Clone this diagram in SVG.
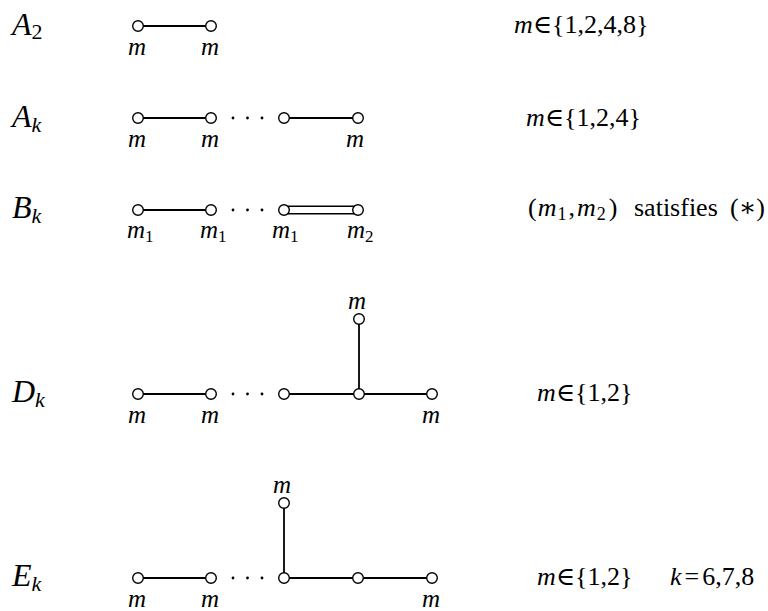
<svg xmlns="http://www.w3.org/2000/svg" width="768" height="611" viewBox="0 0 768 611">
<style>
.nd{fill:#fff;stroke:#000;stroke-width:1.4}
.ln{stroke:#000;stroke-width:1.8;fill:none}
.dl{stroke:#000;stroke-width:1.5;fill:none}
.dot{fill:#000}
.lab{font-family:'Liberation Serif','Tinos','DejaVu Serif',serif;font-style:italic;font-size:25px;text-anchor:middle}
.labs{font-family:'Liberation Serif','Tinos','DejaVu Serif',serif;font-size:25px}
.it{font-style:italic}
.sub{font-size:17px;font-style:normal}
.name{font-family:'Liberation Serif','Tinos','DejaVu Serif',serif;font-style:italic;font-size:32px}
.nsub{font-size:22px}
.rt{font-family:'Liberation Serif','Tinos','DejaVu Serif',serif;font-size:26px}
</style>
<rect width="768" height="611" fill="#fff"/>

<g id="titles">
<text class="name" x="12" y="35">A<tspan class="nsub" font-style="normal" dy="4">2</tspan></text>
<text class="name" x="12" y="127">A<tspan class="nsub" dy="5">k</tspan></text>
<text class="name" x="12" y="218">B<tspan class="nsub" dy="5">k</tspan></text>
<text class="name" x="12" y="402">D<tspan class="nsub" dy="5">k</tspan></text>
<text class="name" x="12" y="586">E<tspan class="nsub" dy="5">k</tspan></text>
</g>

<g id="conditions">
<text class="rt" x="514" y="33"><tspan class="it">m</tspan>∈{1,2,4,8}</text>
<text class="rt" x="526" y="126"><tspan class="it">m</tspan>∈{1,2,4}</text>
<text class="rt" x="528" y="216">(<tspan class="it" dx="1">m</tspan><tspan font-size="18" dy="4" dx="1">1</tspan><tspan dy="-4" dx="2">,</tspan><tspan class="it" dx="2">m</tspan><tspan font-size="18" dy="4" dx="1">2</tspan><tspan dy="-4" dx="3">)</tspan><tspan x="634">satisfies</tspan></text>
<text class="rt" x="765" y="216" text-anchor="end">(∗)</text>
<text class="rt" x="537" y="401"><tspan class="it">m</tspan>∈{1,2}</text>
<text class="rt" x="537" y="585"><tspan class="it">m</tspan>∈{1,2}<tspan x="670" class="it">k</tspan><tspan dx="3">=</tspan><tspan dx="3">6,7,8</tspan></text>
</g>

<g id="connectors">
<line class="ln" x1="138" y1="26" x2="211" y2="26"/>
<line class="ln" x1="138" y1="118" x2="211" y2="118"/>
<line class="ln" x1="284" y1="118" x2="358" y2="118"/>
<line class="ln" x1="138" y1="210" x2="211" y2="210"/>
<line class="dl" x1="284" y1="206.2" x2="358" y2="206.2"/>
<line class="dl" x1="284" y1="213.8" x2="358" y2="213.8"/>
<line class="ln" x1="138" y1="394" x2="211" y2="394"/>
<line class="ln" x1="284" y1="394" x2="432" y2="394"/>
<line class="ln" x1="359" y1="319" x2="359" y2="394"/>
<line class="ln" x1="138" y1="578" x2="211" y2="578"/>
<line class="ln" x1="284" y1="578" x2="432" y2="578"/>
<line class="ln" x1="284" y1="503" x2="284" y2="578"/>
</g>

<g id="ellipses">
<circle class="dot" cx="233" cy="118" r="1.4"/><circle class="dot" cx="247.5" cy="118" r="1.4"/><circle class="dot" cx="262" cy="118" r="1.4"/>
<circle class="dot" cx="233" cy="210" r="1.4"/><circle class="dot" cx="247.5" cy="210" r="1.4"/><circle class="dot" cx="262" cy="210" r="1.4"/>
<circle class="dot" cx="233" cy="394" r="1.4"/><circle class="dot" cx="247.5" cy="394" r="1.4"/><circle class="dot" cx="262" cy="394" r="1.4"/>
<circle class="dot" cx="233" cy="578" r="1.4"/><circle class="dot" cx="247.5" cy="578" r="1.4"/><circle class="dot" cx="262" cy="578" r="1.4"/>
</g>

<!-- A2 -->
<g id="a2-n1"><circle class="nd" cx="138" cy="26" r="5.3"/><text class="lab" x="137" y="55">m</text></g>
<g id="a2-n2"><circle class="nd" cx="211" cy="26" r="5.3"/><text class="lab" x="210" y="55">m</text></g>

<!-- Ak -->
<g id="ak-n1"><circle class="nd" cx="138" cy="118" r="5.3"/><text class="lab" x="137" y="147">m</text></g>
<g id="ak-n2"><circle class="nd" cx="211" cy="118" r="5.3"/><text class="lab" x="210" y="147">m</text></g>
<g id="ak-n3"><circle class="nd" cx="284" cy="118" r="5.3"/></g>
<g id="ak-n4"><circle class="nd" cx="358" cy="118" r="5.3"/><text class="lab" x="355" y="147">m</text></g>

<!-- Bk -->
<g id="bk-n1"><circle class="nd" cx="138" cy="210" r="5.3"/><text class="labs" x="127" y="238"><tspan class="it">m</tspan><tspan class="sub" dy="4">1</tspan></text></g>
<g id="bk-n2"><circle class="nd" cx="211" cy="210" r="5.3"/><text class="labs" x="200" y="238"><tspan class="it">m</tspan><tspan class="sub" dy="4">1</tspan></text></g>
<g id="bk-n3"><circle class="nd" cx="284" cy="210" r="5.3"/><text class="labs" x="272" y="238"><tspan class="it">m</tspan><tspan class="sub" dy="4">1</tspan></text></g>
<g id="bk-n4"><circle class="nd" cx="358" cy="210" r="5.3"/><text class="labs" x="347" y="238"><tspan class="it">m</tspan><tspan class="sub" dy="4">2</tspan></text></g>

<!-- Dk -->
<g id="dk-n1"><circle class="nd" cx="138" cy="394" r="5.3"/><text class="lab" x="137" y="423">m</text></g>
<g id="dk-n2"><circle class="nd" cx="211" cy="394" r="5.3"/><text class="lab" x="210" y="423">m</text></g>
<g id="dk-n3"><circle class="nd" cx="284" cy="394" r="5.3"/></g>
<g id="dk-n4"><circle class="nd" cx="359" cy="394" r="5.3"/></g>
<g id="dk-n5"><circle class="nd" cx="432" cy="394" r="5.3"/><text class="lab" x="431" y="423">m</text></g>
<g id="dk-n6"><circle class="nd" cx="359" cy="319" r="5.3"/><text class="lab" x="357" y="309">m</text></g>

<!-- Ek -->
<g id="ek-n1"><circle class="nd" cx="138" cy="578" r="5.3"/><text class="lab" x="137" y="607">m</text></g>
<g id="ek-n2"><circle class="nd" cx="211" cy="578" r="5.3"/><text class="lab" x="210" y="607">m</text></g>
<g id="ek-n3"><circle class="nd" cx="284" cy="578" r="5.3"/></g>
<g id="ek-n4"><circle class="nd" cx="358" cy="578" r="5.3"/></g>
<g id="ek-n5"><circle class="nd" cx="432" cy="578" r="5.3"/><text class="lab" x="431" y="607">m</text></g>
<g id="ek-n6"><circle class="nd" cx="284" cy="503" r="5.3"/><text class="lab" x="282" y="493">m</text></g>
</svg>
